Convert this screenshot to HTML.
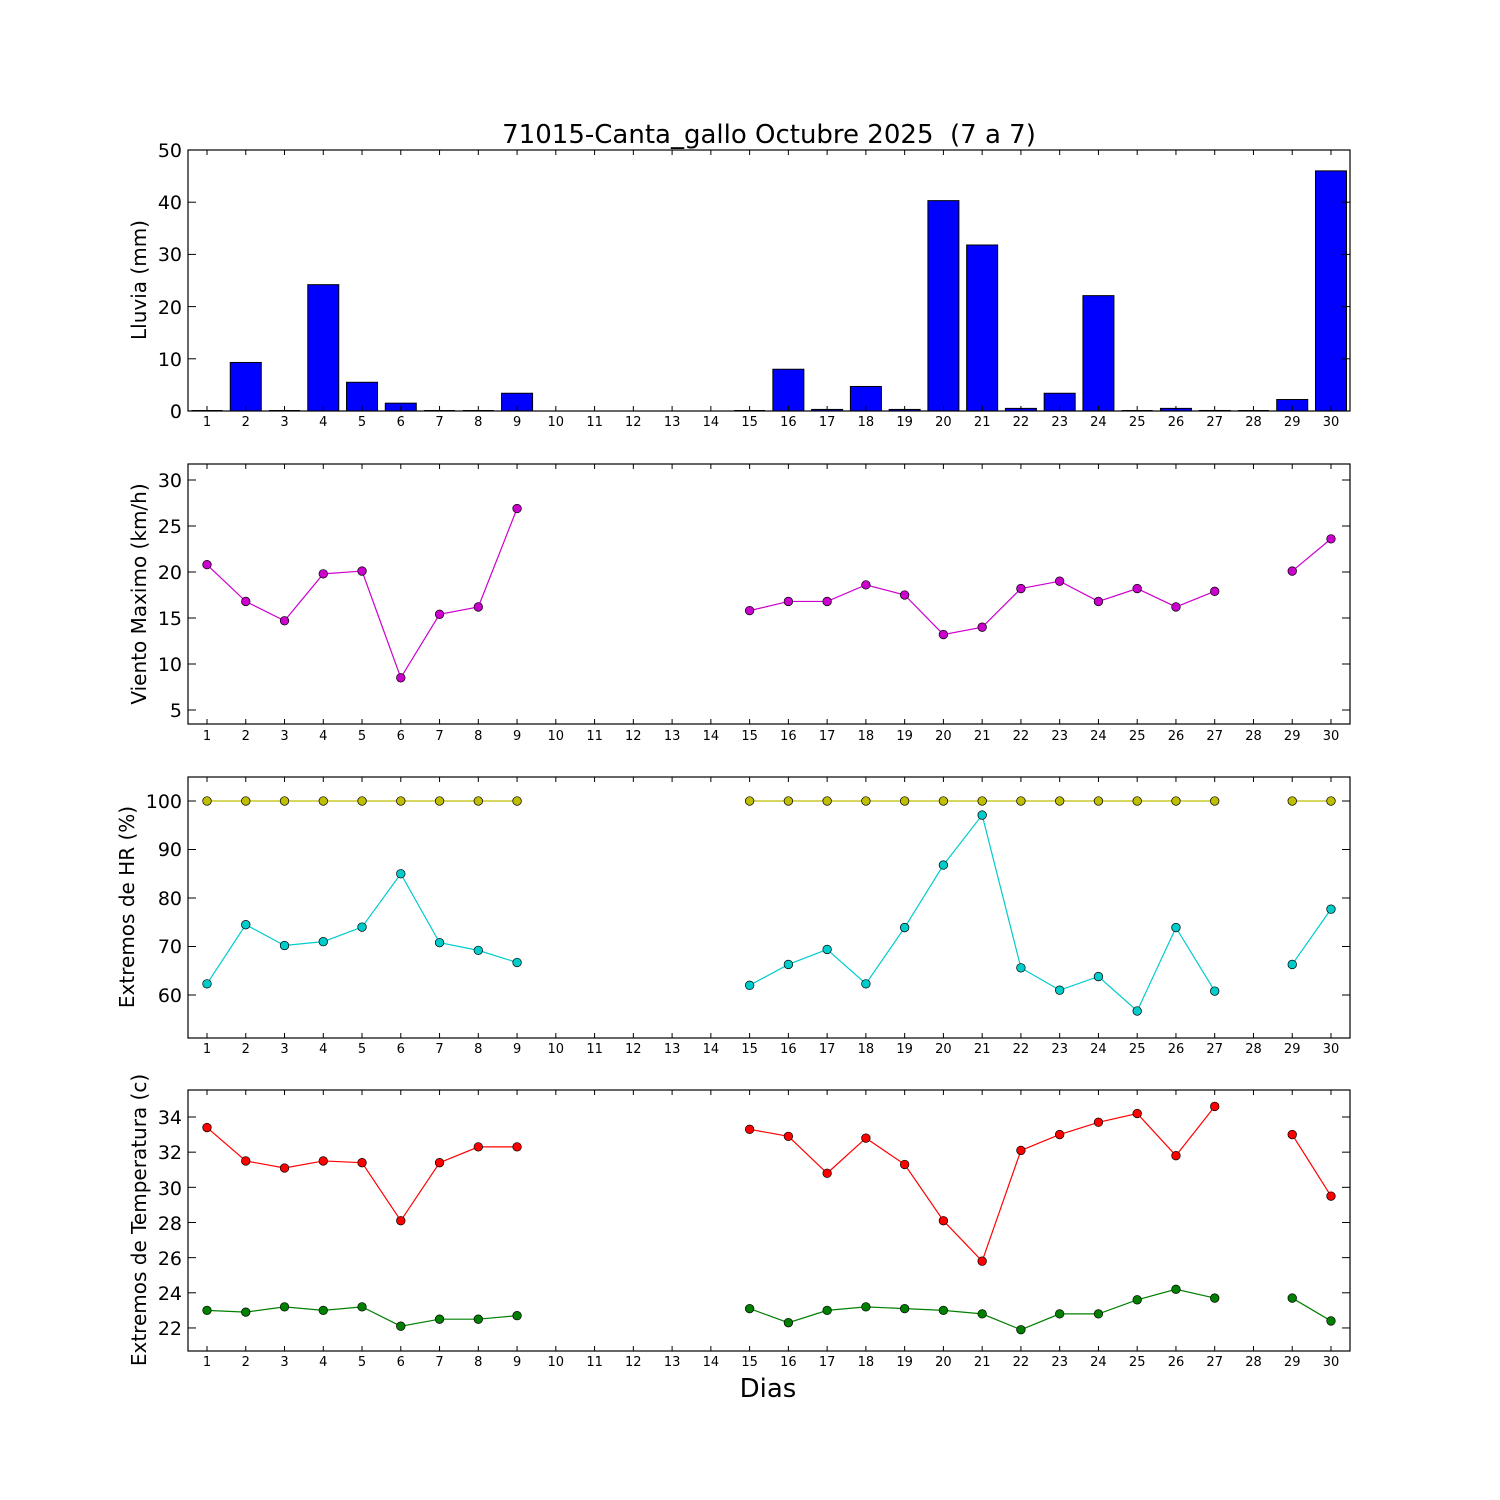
<!DOCTYPE html>
<html><head><meta charset="utf-8"><style>body{margin:0;background:#fff}svg{display:block}text{font-family:"DejaVu Sans","Liberation Sans",sans-serif}</style></head>
<body>
<svg id="s" width="1500" height="1500" xmlns="http://www.w3.org/2000/svg">
<defs>
<g id="xl" font-size="13" text-anchor="middle">
<text x="207" y="0">1</text><text x="245.8" y="0">2</text><text x="284.5" y="0">3</text><text x="323.3" y="0">4</text><text x="362" y="0">5</text><text x="400.8" y="0">6</text><text x="439.5" y="0">7</text><text x="478.3" y="0">8</text><text x="517.1" y="0">9</text><text x="555.8" y="0">10</text><text x="594.6" y="0">11</text><text x="633.3" y="0">12</text><text x="672.1" y="0">13</text><text x="710.9" y="0">14</text><text x="749.6" y="0">15</text><text x="788.4" y="0">16</text><text x="827.1" y="0">17</text><text x="865.9" y="0">18</text><text x="904.6" y="0">19</text><text x="943.4" y="0">20</text><text x="982.2" y="0">21</text><text x="1020.9" y="0">22</text><text x="1059.7" y="0">23</text><text x="1098.4" y="0">24</text><text x="1137.2" y="0">25</text><text x="1176" y="0">26</text><text x="1214.7" y="0">27</text><text x="1253.5" y="0">28</text><text x="1292.2" y="0">29</text><text x="1331" y="0">30</text>
</g>
</defs>
<g id="shapes"></g>
<use href="#xl" y="426"/><use href="#xl" y="740"/><use href="#xl" y="1053"/><use href="#xl" y="1366"/>
<text x="769" y="143" font-size="26" text-anchor="middle" xml:space="preserve">71015-Canta_gallo Octubre 2025  (7 a 7)</text>
<text x="768" y="1397" font-size="26" text-anchor="middle">Dias</text>
<g font-size="19" text-anchor="end">
<text x="182" y="418">0</text><text x="182" y="366">10</text><text x="182" y="314">20</text><text x="182" y="261">30</text><text x="182" y="209">40</text><text x="182" y="157">50</text>
<text x="182" y="717">5</text><text x="182" y="671">10</text><text x="182" y="625">15</text><text x="182" y="579">20</text><text x="182" y="533">25</text><text x="182" y="487">30</text>
<text x="182" y="1002">60</text><text x="182" y="953">70</text><text x="182" y="905">80</text><text x="182" y="856">90</text><text x="182" y="808">100</text>
<text x="182" y="1335">22</text><text x="182" y="1300">24</text><text x="182" y="1265">26</text><text x="182" y="1230">28</text><text x="182" y="1195">30</text><text x="182" y="1159">32</text><text x="182" y="1124">34</text>
</g>
<g font-size="20" text-anchor="middle">
<text transform="translate(146,280) rotate(-90)">Lluvia (mm)</text>
<text transform="translate(146,594) rotate(-90)">Viento Maximo (km/h)</text>
<text transform="translate(134,907) rotate(-90)">Extremos de HR (%)</text>
<text transform="translate(146,1220) rotate(-90)">Extremos de Temperatura (c)</text>
</g>
</svg>
<script>
const g=document.getElementById('shapes'),NS='http://www.w3.org/2000/svg';
function el(t,a){const e=document.createElementNS(NS,t);for(const k in a)e.setAttribute(k,a[k]);g.appendChild(e);return e;}
const X=d=>207+(d-1)*38.758;
const P=[[150,411],[464,724],[777,1038],[1090,1351]];
const rain=[0,9.3,0,24.2,5.5,1.5,0,0,3.4,null,null,null,null,null,0,8.0,0.3,4.7,0.3,40.3,31.8,0.5,3.4,22.1,0,0.5,0.1,0,2.2,46.0];
rain.forEach((v,i)=>{if(v===null)return;const h=v*5.22;if(h<1){el('line',{x1:X(i+1)-15.5,x2:X(i+1)+15.5,y1:410.5,y2:410.5,stroke:'#000','stroke-width':1});if(h<=0)return;}el('rect',{x:X(i+1)-15.5,y:411-h,width:31,height:h,fill:'#00f',stroke:'#000','stroke-width':1});});
function series(vals,f,col){let seg=[];const segs=[];vals.forEach((v,i)=>{if(v===null){if(seg.length)segs.push(seg);seg=[];}else seg.push([X(i+1),f(v)]);});if(seg.length)segs.push(seg);
segs.forEach(s=>{el('polyline',{points:s.map(p=>p.join(',')).join(' '),fill:'none',stroke:col,'stroke-width':1.2});s.forEach(p=>el('circle',{cx:p[0],cy:p[1],r:4.3,fill:col,stroke:'#000','stroke-width':0.7}));});}
const N=null,gap=[N,N,N,N,N];
series([20.8,16.8,14.7,19.8,20.1,8.5,15.4,16.2,26.9,...gap,15.8,16.8,16.8,18.6,17.5,13.2,14.0,18.2,19.0,16.8,18.2,16.2,17.9,N,20.1,23.6],v=>480+(30-v)*9.2,'#c0c');
series([100,100,100,100,100,100,100,100,100,...gap,100,100,100,100,100,100,100,100,100,100,100,100,100,N,100,100],v=>801+(100-v)*4.85,'#bfbf00');
series([62.3,74.5,70.2,71.0,74.0,85.0,70.8,69.2,66.7,...gap,62.0,66.3,69.4,62.3,73.9,86.8,97.1,65.6,61.0,63.8,56.7,73.9,60.8,N,66.3,77.7],v=>801+(100-v)*4.85,'#0cc');
const T=v=>1117+(34-v)*17.58;
series([33.4,31.5,31.1,31.5,31.4,28.1,31.4,32.3,32.3,...gap,33.3,32.9,30.8,32.8,31.3,28.1,25.8,32.1,33.0,33.7,34.2,31.8,34.6,N,33.0,29.5],T,'#f00');
series([23.0,22.9,23.2,23.0,23.2,22.1,22.5,22.5,22.7,...gap,23.1,22.3,23.0,23.2,23.1,23.0,22.8,21.9,22.8,22.8,23.6,24.2,23.7,N,23.7,22.4],T,'#008000');
const yt=[[0,10,20,30,40,50].map(v=>411-v*5.22),[5,10,15,20,25,30].map(v=>480+(30-v)*9.2),[60,70,80,90,100].map(v=>801+(100-v)*4.85),[22,24,26,28,30,32,34].map(T)];
P.forEach(([t,b],k)=>{el('rect',{x:188,y:t,width:1162,height:b-t,fill:'none',stroke:'#000','stroke-width':1.2});
for(let d=1;d<=30;d++){el('line',{x1:X(d),x2:X(d),y1:b,y2:b-5,stroke:'#000'});el('line',{x1:X(d),x2:X(d),y1:t,y2:t+5,stroke:'#000'});}
yt[k].forEach(y=>{el('line',{x1:188,x2:196,y1:y,y2:y,stroke:'#000'});el('line',{x1:1350,x2:1342,y1:y,y2:y,stroke:'#000'});});});
</script>
</body></html>
